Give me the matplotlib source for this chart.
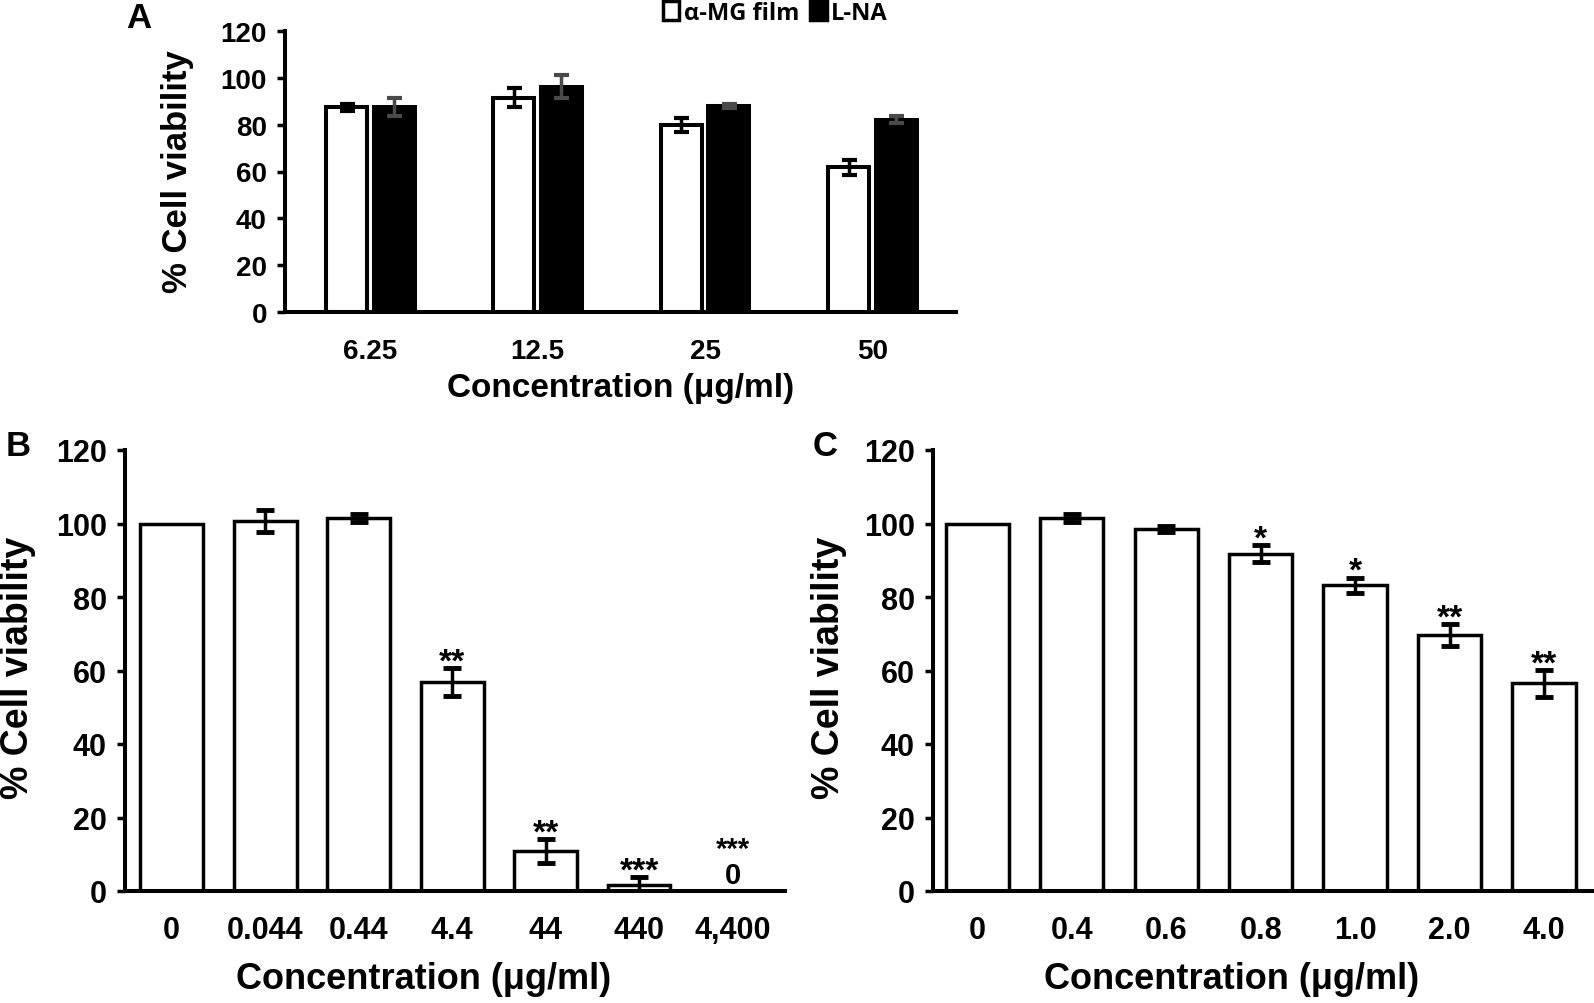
import numpy as np
import matplotlib
matplotlib.use('Agg')
import matplotlib.pyplot as plt
from matplotlib.patches import Patch

plt.rcParams['font.family'] = ['Liberation Sans', 'DejaVu Sans']
plt.rcParams['font.weight'] = 'bold'

# Panel A data
conc_a = ['6.25', '12.5', '25', '50']
film = [87.4, 91.6, 80.0, 61.8]
film_err = [1.5, 4.0, 3.0, 3.2]
lna = [87.6, 96.2, 88.0, 82.0]
lna_err = [3.8, 5.0, 1.0, 1.5]

# Panel B data
conc_b = ['0', '0.044', '0.44', '4.4', '44', '440', '4,400']
via_b = [100, 100.8, 101.5, 56.8, 10.8, 1.7, 0]
err_b = [0, 3.0, 1.0, 3.8, 3.3, 2.0, 0]
stars_b = ['', '', '', '**', '**', '***', '***']

# Panel C data
conc_c = ['0', '0.4', '0.6', '0.8', '1.0', '2.0', '4.0']
via_c = [100, 101.5, 98.5, 91.8, 83.2, 69.6, 56.5]
err_c = [0, 1.0, 0.8, 2.3, 2.0, 3.0, 3.6]
stars_c = ['', '', '', '*', '*', '**', '**']

W, H = 1594, 1004
fig = plt.figure(figsize=(W / 100, H / 100), dpi=100)


def px_axes(l, r, t, b):
    return fig.add_axes([l / W, 1 - b / H, (r - l) / W, (b - t) / H])


def style(ax, fs):
    for s in ['top', 'right']:
        ax.spines[s].set_visible(False)
    for s in ['left', 'bottom']:
        ax.spines[s].set_linewidth(2.9)
    ax.set_ylim(0, 120)
    ax.set_yticks(np.arange(0, 121, 20))
    ax.tick_params(axis='y', length=6, width=2.5, labelsize=fs, pad=7)
    ax.tick_params(axis='x', length=0, labelsize=fs)


# ---- Panel A ----
axA = px_axes(285, 956, 32, 313)
x = np.arange(len(conc_a))
axA.bar(x - 0.142, film, 0.245, color='white', edgecolor='black', lw=2.9, zorder=2)
axA.bar(x + 0.142, lna, 0.245, color='black', edgecolor='black', lw=2.9, zorder=2)
axA.errorbar(x - 0.142, film, yerr=film_err, fmt='none', ecolor='black',
             elinewidth=2.5, capsize=5.4, capthick=3, zorder=3)
axA.errorbar(x + 0.142, lna, yerr=lna_err, fmt='none', ecolor='#4a4a4a',
             elinewidth=2.5, capsize=5.4, capthick=3, zorder=3)
style(axA, 20)
axA.set_xlim(-0.51, 3.5)
axA.set_xticks(x)
axA.set_xticklabels(conc_a)
axA.tick_params(axis='x', pad=19)

handles = [Patch(facecolor='white', edgecolor='black', lw=2.5, label='α-MG film'),
           Patch(facecolor='black', edgecolor='black', lw=2.5, label='L-NA')]
fig.legend(handles=handles, loc='center left', bbox_to_anchor=(651 / W, 1 - 14 / H),
           ncol=2, frameon=False, borderpad=0, handlelength=0.7, handleheight=0.85,
           handletextpad=0.2, columnspacing=0.45,
           prop={'family': ['Open Sans', 'DejaVu Sans'], 'weight': 'bold', 'size': 17})


# ---- Panels B and C ----
def panel(ax, labels, vals, errs, stars, xlim):
    xx = np.arange(len(labels))
    ax.bar(xx, vals, 0.67, color='white', edgecolor='black', lw=2.5, zorder=2)
    keep = [i for i in range(len(errs)) if errs[i] > 0]
    ax.errorbar(xx[keep], np.array(vals)[keep], yerr=np.array(errs)[keep], fmt='none',
                ecolor='black', elinewidth=2.5, capsize=6.5, capthick=3.5, zorder=3)
    style(ax, 22)
    ax.set_xlim(*xlim)
    ax.set_xticks(xx)
    ax.set_xticklabels(labels)
    ax.tick_params(axis='x', pad=17)
    for i, s in enumerate(stars):
        if not s:
            continue
        if vals[i] == 0:
            # stars and the zero value stacked in one text
            ax.annotate(s + '\n0', xy=(xx[i], 0), xytext=(0, 5.5),
                        textcoords='offset points', ha='center', va='baseline',
                        multialignment='center', linespacing=0.95, fontsize=21)
        else:
            ax.annotate(s, xy=(xx[i], vals[i] + errs[i]), xytext=(0, -1.5),
                        textcoords='offset points', ha='center', va='baseline',
                        fontsize=24)


axB = px_axes(125, 785, 451, 892)
panel(axB, conc_b, via_b, err_b, stars_b, (-0.5, 6.56))
axC = px_axes(933, 1594, 451, 892)
panel(axC, conc_c, via_c, err_c, stars_c, (-0.47, 6.53))

# labels
fig.text(621 / W, 1 - 389 / H, 'Concentration (μg/ml)', ha='center', va='center', fontsize=24)
fig.text(424 / W, 1 - 980 / H, 'Concentration (μg/ml)', ha='center', va='center', fontsize=26)
fig.text(1232 / W, 1 - 980 / H, 'Concentration (μg/ml)', ha='center', va='center', fontsize=26)
fig.text(178 / W, 1 - 172 / H, '% Cell viability', ha='center', va='center', rotation=90, fontsize=25)
fig.text(18 / W, 1 - 668 / H, '% Cell viability', ha='center', va='center', rotation=90, fontsize=27)
fig.text(829 / W, 1 - 668 / H, '% Cell viability', ha='center', va='center', rotation=90, fontsize=27)

fig.text(139 / W, 1 - 18 / H, 'A', ha='center', va='center', fontsize=25)
fig.text(18 / W, 1 - 447 / H, 'B', ha='center', va='center', fontsize=25)
fig.text(825 / W, 1 - 447 / H, 'C', ha='center', va='center', fontsize=25)

fig.savefig('out.png', dpi=100)
